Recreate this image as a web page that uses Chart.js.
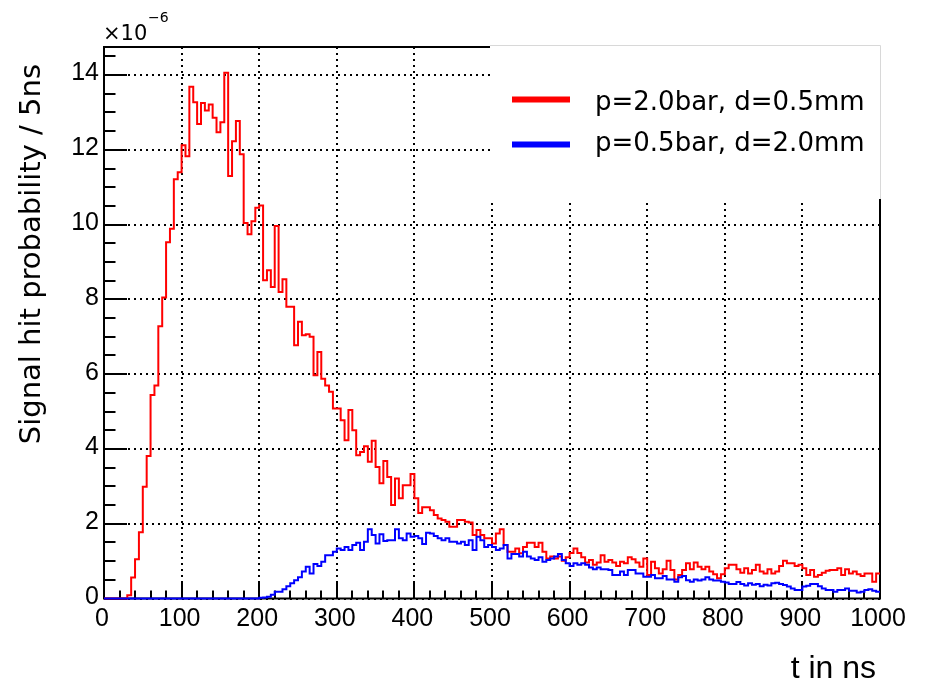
<!DOCTYPE html>
<html>
<head>
<meta charset="utf-8">
<script src="https://cdn.jsdelivr.net/npm/chart.js@4.4.1/dist/chart.umd.min.js"></script>
<style>
  html, body { margin: 0; padding: 0; background: #ffffff; }
  #wrap { width: 927px; height: 681px; }
</style>
</head>
<body>
<div id="wrap"><canvas id="chart" width="927" height="681"></canvas></div>
<script>
// Histogram binning: 200 bins of 5 ns from 0 to 1000 ns
const binWidth = 5;
const binCount = 200;

// Signal hit probability per 5 ns bin, in units of 1e-6
const highPressure = [ // p=2.0bar, d=0.5mm
  0, 0, 0, 0, 0, 0, 0.09, 0.56, 1.05, 1.77,
  2.99, 3.81, 5.44, 5.70, 7.28, 8.05, 9.53, 9.89, 11.21, 11.40,
  12.12, 11.83, 13.69, 13.27, 12.69, 13.25, 13.05, 13.21, 12.86, 12.47,
  12.74, 14.06, 11.30, 12.23, 12.77, 11.88, 10.04, 9.74, 10.09, 10.45,
  10.51, 8.51, 8.78, 8.33, 9.96, 8.20, 8.54, 7.80, 7.80, 6.77,
  7.40, 7.04, 7.07, 7.00, 5.97, 6.59, 5.88, 5.70, 5.53, 5.08,
  5.08, 4.77, 4.23, 5.04, 4.50, 3.83, 3.92, 4.07, 3.66, 4.22,
  3.52, 3.08, 3.68, 3.25, 2.50, 3.21, 2.68, 3.03, 3.03, 3.33,
  2.68, 2.29, 2.44, 2.44, 2.36, 2.23, 2.14, 2.10, 2.05, 1.92,
  1.92, 2.10, 2.10, 2.05, 2.03, 1.70, 1.83, 1.70, 1.61, 1.61,
  1.47, 1.74, 1.85, 1.43, 1.25, 1.25, 1.34, 1.21, 1.38, 1.49,
  1.49, 1.38, 1.49, 1.25, 1.07, 1.12, 1.07, 1.12, 1.01, 1.10,
  1.22, 1.34, 1.22, 1.10, 0.96, 1.03, 0.90, 0.96, 1.16, 0.98,
  1.03, 0.96, 0.87, 0.98, 0.94, 1.10, 1.05, 0.96, 0.85, 1.07,
  0.63, 0.98, 0.81, 0.67, 0.78, 1.01, 0.76, 0.51, 0.63, 0.76,
  0.94, 0.78, 0.96, 0.85, 0.78, 0.85, 0.72, 0.65, 0.54, 0.65,
  0.81, 0.90, 0.90, 0.78, 0.69, 0.81, 0.67, 0.76, 0.90, 0.72,
  0.67, 0.78, 0.67, 0.72, 0.87, 1.01, 0.94, 0.94, 0.87, 0.90,
  0.81, 0.63, 0.76, 0.58, 0.63, 0.69, 0.74, 0.76, 0.76, 0.81,
  0.63, 0.78, 0.67, 0.72, 0.65, 0.60, 0.67, 0.67, 0.45, 0.67
];

const lowPressure = [ // p=0.5bar, d=2.0mm
  0, 0, 0, 0, 0, 0, 0, 0, 0, 0,
  0, 0, 0, 0, 0, 0, 0, 0, 0, 0,
  0, 0, 0, 0, 0, 0, 0, 0, 0, 0,
  0, 0, 0, 0, 0, 0, 0, 0, 0, 0,
  0.02, 0.03, 0.05, 0.10, 0.18, 0.18, 0.25, 0.33, 0.41, 0.49,
  0.57, 0.72, 0.85, 0.67, 0.92, 0.87, 0.98, 1.16, 1.16, 1.25,
  1.34, 1.30, 1.38, 1.30, 1.43, 1.49, 1.30, 1.52, 1.85, 1.70,
  1.47, 1.72, 1.54, 1.56, 1.56, 1.85, 1.61, 1.56, 1.74, 1.65,
  1.67, 1.61, 1.46, 1.76, 1.74, 1.67, 1.61, 1.56, 1.61, 1.52,
  1.52, 1.47, 1.52, 1.43, 1.56, 1.30, 1.65, 1.56, 1.38, 1.43,
  1.38, 1.30, 1.34, 1.43, 1.07, 1.19, 1.19, 1.12, 1.25, 1.12,
  1.07, 1.03, 1.10, 0.98, 1.03, 1.07, 1.12, 1.19, 1.03, 0.94,
  0.87, 0.94, 0.90, 0.94, 0.90, 0.83, 0.78, 0.83, 0.78, 0.78,
  0.76, 0.63, 0.63, 0.72, 0.63, 0.76, 0.76, 0.67, 0.67, 0.58,
  0.58, 0.63, 0.54, 0.54, 0.60, 0.51, 0.51, 0.45, 0.57, 0.60,
  0.49, 0.45, 0.51, 0.48, 0.51, 0.57, 0.51, 0.48, 0.48, 0.45,
  0.43, 0.39, 0.39, 0.44, 0.39, 0.35, 0.41, 0.37, 0.39, 0.33,
  0.37, 0.35, 0.41, 0.42, 0.39, 0.36, 0.32, 0.27, 0.23, 0.23,
  0.32, 0.34, 0.39, 0.39, 0.33, 0.27, 0.23, 0.23, 0.18, 0.23,
  0.23, 0.27, 0.21, 0.21, 0.16, 0.18, 0.23, 0.25, 0.21, 0.18
];

// Axis ticks
const xTickValues = [0, 100, 200, 300, 400, 500, 600, 700, 800, 900, 1000];
const yTickValues = [0, 2, 4, 6, 8, 10, 12, 14];

const seriesLabels = ['p=2.0bar, d=0.5mm', 'p=0.5bar, d=2.0mm'];
const seriesColors = ['#ff0000', '#0000ff'];

const xRange = [0, 1000];
const yRange = [0, 14.75];

// Step outline: one point per low bin edge, plus closing point at the last upper edge
function histogramPoints(values) {
  const pts = values.map((v, i) => ({ x: i * binWidth, y: v }));
  pts.push({ x: binCount * binWidth, y: values[values.length - 1] });
  return pts;
}

const TICK_FONT = '"Liberation Sans", Arial, sans-serif';
const TEXT_FONT = '"DejaVu Sans", sans-serif';

// Frame, inward tick marks, legend box and titles in the ROOT style
const framePlugin = {
  id: 'histFrame',
  beforeDatasetsDraw(chart) {
    const { ctx, chartArea: a, scales: { x, y } } = chart;
    ctx.save();
    ctx.strokeStyle = '#000';
    ctx.lineWidth = 2;
    ctx.strokeRect(a.left, a.top, a.right - a.left, a.bottom - a.top);

    // x ticks: major every 100, minor every 20
    ctx.beginPath();
    for (let v = xRange[0]; v <= xRange[1]; v += 20) {
      const px = Math.round(x.getPixelForValue(v));
      const len = v % 100 === 0 ? 16 : 8;
      ctx.moveTo(px, a.bottom);
      ctx.lineTo(px, a.bottom - len);
    }
    // y ticks: major every 2, minor every 0.5
    for (let v = 0; v <= yRange[1]; v += 0.5) {
      const py = Math.round(y.getPixelForValue(v));
      const len = v % 2 === 0 ? 23 : 11.5;
      ctx.moveTo(a.left, py);
      ctx.lineTo(a.left + len, py);
    }
    ctx.stroke();

    // legend box (white, faint edge only along the top and right)
    const lx = 490, ly = 46, lw = a.right - 490 + 1, lh = 153;
    ctx.fillStyle = '#fff';
    ctx.fillRect(lx, ly - 1, lw, lh + 1);
    ctx.strokeStyle = '#d8d8d8';
    ctx.lineWidth = 1;
    ctx.beginPath();
    ctx.moveTo(lx, ly - 0.5);
    ctx.lineTo(a.right + 0.5, ly - 0.5);
    ctx.lineTo(a.right + 0.5, ly + lh);
    ctx.stroke();

    const rows = [
      { lineY: 99.5, textY: 109.5 },
      { lineY: 144.5, textY: 150.5 }
    ];
    ctx.font = '26px ' + TEXT_FONT;
    ctx.textAlign = 'left';
    ctx.textBaseline = 'alphabetic';
    rows.forEach((r, i) => {
      ctx.strokeStyle = seriesColors[i];
      ctx.lineWidth = 6;
      ctx.beginPath();
      ctx.moveTo(512, r.lineY);
      ctx.lineTo(570, r.lineY);
      ctx.stroke();
      ctx.fillStyle = '#000';
      ctx.fillText(seriesLabels[i], 595, r.textY);
    });
    ctx.restore();
  },
  afterDraw(chart) {
    const { ctx } = chart;
    ctx.save();
    ctx.fillStyle = '#000';

    // y-axis title, aligned to the top of the axis
    ctx.save();
    ctx.translate(40, 64);
    ctx.rotate(-Math.PI / 2);
    ctx.font = '29px ' + TEXT_FONT;
    ctx.textAlign = 'right';
    ctx.textBaseline = 'alphabetic';
    ctx.fillText('Signal hit probability / 5ns', 0, 0);
    ctx.restore();

    // x-axis title, aligned to the right end of the axis
    ctx.font = '32px ' + TICK_FONT;
    ctx.textAlign = 'right';
    ctx.textBaseline = 'alphabetic';
    ctx.fillText('t in ns', 876, 678);

    // exponent of the y axis
    ctx.textAlign = 'left';
    ctx.font = '21px ' + TEXT_FONT;
    ctx.fillText('\u00d710', 103, 40);
    ctx.font = '14px ' + TEXT_FONT;
    ctx.fillText('\u22126', 148, 22);
    ctx.restore();
  }
};

new Chart(document.getElementById('chart'), {
  type: 'line',
  data: {
    datasets: [
      {
        label: seriesLabels[0],
        data: histogramPoints(highPressure),
        borderColor: seriesColors[0],
        borderWidth: 2,
        stepped: 'before',
        pointRadius: 0,
        fill: false,
        order: 2,
        clip: false
      },
      {
        label: seriesLabels[1],
        data: histogramPoints(lowPressure),
        borderColor: seriesColors[1],
        borderWidth: 2,
        stepped: 'before',
        pointRadius: 0,
        fill: false,
        order: 1,
        clip: false
      }
    ]
  },
  options: {
    responsive: false,
    animation: false,
    devicePixelRatio: 1,
    layout: { padding: { left: 0, top: 47, right: 47, bottom: 0 } },
    plugins: { legend: { display: false }, tooltip: { enabled: false } },
    scales: {
      x: {
        type: 'linear',
        min: xRange[0],
        max: xRange[1],
        afterFit(s) { s.height = 82.5; },
        afterBuildTicks(s) { s.ticks = xTickValues.map(v => ({ value: v })); },
        ticks: {
          color: '#000',
          font: { family: TICK_FONT, size: 25 },
          padding: 6,
          labelOffset: -2,
          maxRotation: 0,
          autoSkip: false,
          callback: v => String(v)
        },
        grid: { color: '#000', lineWidth: 2, drawTicks: false },
        border: { display: false, dash: [2, 4] }
      },
      y: {
        type: 'linear',
        min: yRange[0],
        max: yRange[1],
        afterFit(s) { s.width = 104; },
        afterBuildTicks(s) { s.ticks = yTickValues.map(v => ({ value: v })); },
        ticks: {
          color: '#000',
          font: { family: TICK_FONT, size: 25 },
          padding: 5,
          labelOffset: -1.5,
          autoSkip: false,
          callback: v => String(v)
        },
        grid: { color: '#000', lineWidth: 2, drawTicks: false },
        border: { display: false, dash: [2, 4] }
      }
    }
  },
  plugins: [framePlugin]
});
</script>
</body>
</html>
